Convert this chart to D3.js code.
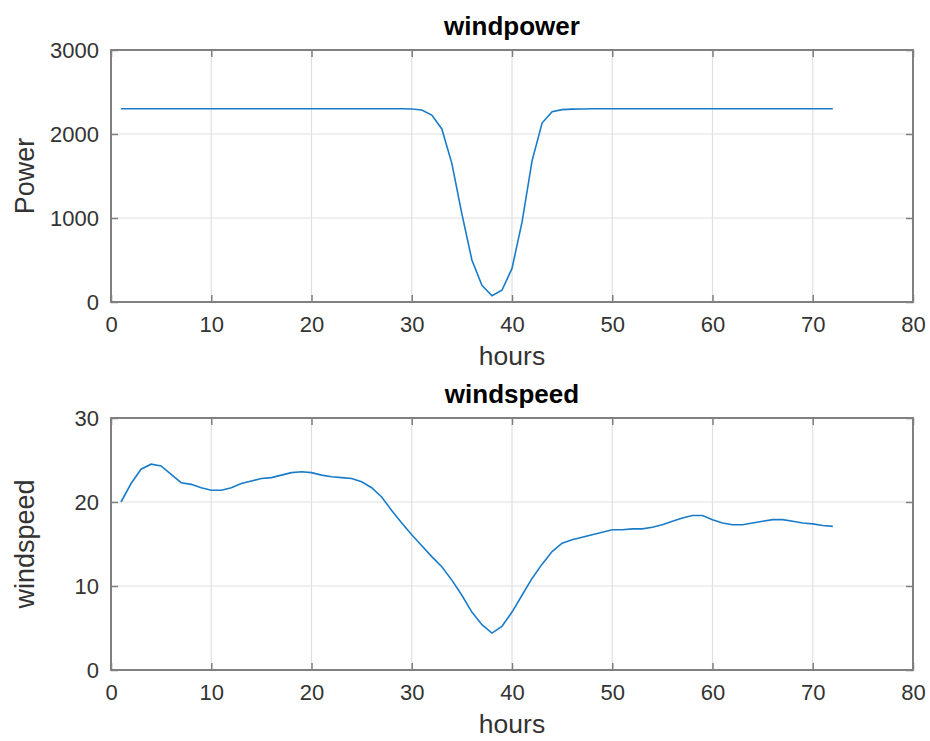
<!DOCTYPE html>
<html><head><meta charset="utf-8">
<script src="https://cdn.jsdelivr.net/npm/d3@7"></script>
<style>body{margin:0;background:#fff}svg{display:block}text{font-family:"Liberation Sans",Arial,sans-serif}</style>
</head><body><svg id="c" width="930" height="741"></svg>
<script>
const hours = d3.range(1, 73);
const power = [2300,2300,2300,2300,2300,2300,2300,2300,2300,2300,
  2300,2300,2300,2300,2300,2300,2300,2300,2300,2300,
  2300,2300,2300,2300,2300,2300,2300,2300,2300,2298,
  2285,2225,2060,1650,1050,500,200,75,140,400,
  950,1680,2130,2265,2290,2296,2298,2300,2300,2300,
  2300,2300,2300,2300,2300,2300,2300,2300,2300,2300,
  2300,2300,2300,2300,2300,2300,2300,2300,2300,2300,2300,2300];
const windspeed = [20.0,22.2,23.9,24.5,24.3,23.3,22.3,22.1,21.7,21.4,
  21.4,21.7,22.2,22.5,22.8,22.9,23.2,23.5,23.6,23.5,
  23.2,23.0,22.9,22.8,22.4,21.7,20.6,19.0,17.5,16.1,
  14.8,13.5,12.3,10.7,8.9,6.9,5.4,4.4,5.2,6.9,
  8.9,10.9,12.6,14.1,15.1,15.5,15.8,16.1,16.4,16.7,
  16.7,16.8,16.8,17.0,17.3,17.7,18.1,18.4,18.4,17.9,
  17.5,17.3,17.3,17.5,17.7,17.9,17.9,17.7,17.5,17.4,17.2,17.1];
const xTicks = [0,10,20,30,40,50,60,70,80];
const powerTicks = [0,1000,2000,3000];
const speedTicks = [0,10,20,30];

const svg = d3.select("#c");
const L = 111, R = 913;
const x = d3.scaleLinear().domain([0,80]).range([L,R]);
const fmt = d3.format("d");

function panel(top, bottom, yDomain, yTicks, data, title, ylabel) {
  const y = d3.scaleLinear().domain(yDomain).range([bottom, top]);
  const g = svg.append("g");
  g.selectAll(".gx").data(xTicks.slice(1,-1)).join("line")
    .attr("x1", d=>x(d)).attr("x2", d=>x(d)).attr("y1", top).attr("y2", bottom)
    .attr("stroke", "#e0e0e0").attr("stroke-width", 1.2);
  g.selectAll(".gy").data(yTicks.slice(1,-1)).join("line")
    .attr("y1", d=>y(d)).attr("y2", d=>y(d)).attr("x1", L).attr("x2", R)
    .attr("stroke", "#e0e0e0").attr("stroke-width", 1.2);
  g.append("path").datum(hours.map((h,i)=>[h, data[i]]))
    .attr("fill","none").attr("stroke","#1a7cc9").attr("stroke-width",1.6)
    .attr("d", d3.line().x(d=>x(d[0])).y(d=>y(d[1])));
  const ax = d3.axisBottom(x).tickValues(xTicks).tickFormat(fmt).tickSizeInner(-7).tickSizeOuter(0).tickPadding(14);
  const axT = d3.axisTop(x).tickValues(xTicks).tickSizeInner(-7).tickSizeOuter(0).tickFormat("");
  const ay = d3.axisLeft(y).tickValues(yTicks).tickFormat(fmt).tickSizeInner(-7).tickSizeOuter(0).tickPadding(12);
  const ayR = d3.axisRight(y).tickValues(yTicks).tickSizeInner(-7).tickSizeOuter(0).tickFormat("");
  const gb = g.append("g").attr("transform",`translate(0,${bottom})`).call(ax);
  const gt = g.append("g").attr("transform",`translate(0,${top})`).call(axT);
  const gl = g.append("g").attr("transform",`translate(${L},0)`).call(ay);
  const gr = g.append("g").attr("transform",`translate(${R},0)`).call(ayR);
  [gb,gt,gl,gr].forEach(s=>{
    s.select(".domain").remove();
    s.selectAll("line").attr("stroke","#7f7f7f").attr("stroke-width",1.5);
    s.selectAll("text").attr("fill","#333333").style("font-size","22px").style("font-family",'"Liberation Sans",Arial,sans-serif');
  });
  g.append("rect").attr("x",L).attr("y",top).attr("width",R-L).attr("height",bottom-top)
    .attr("fill","none").attr("stroke","#808080").attr("stroke-width",2);
  g.append("text").attr("x",(L+R)/2).attr("y",top-15).attr("text-anchor","middle")
    .attr("font-weight","bold").style("font-size","26px").attr("fill","#000").text(title);
  g.append("text").attr("x",(L+R)/2).attr("y",bottom+63).attr("text-anchor","middle")
    .style("font-size","26.5px").attr("fill","#333333").text("hours");
  g.append("text").attr("transform",`translate(34,${(top+bottom)/2}) rotate(-90)`).attr("text-anchor","middle")
    .style("font-size","27px").attr("fill","#333333").text(ylabel);
}
panel(50, 302, [0,3000], powerTicks, power, "windpower", "Power");
panel(418, 670, [0,30], speedTicks, windspeed, "windspeed", "windspeed");
</script></body></html>
